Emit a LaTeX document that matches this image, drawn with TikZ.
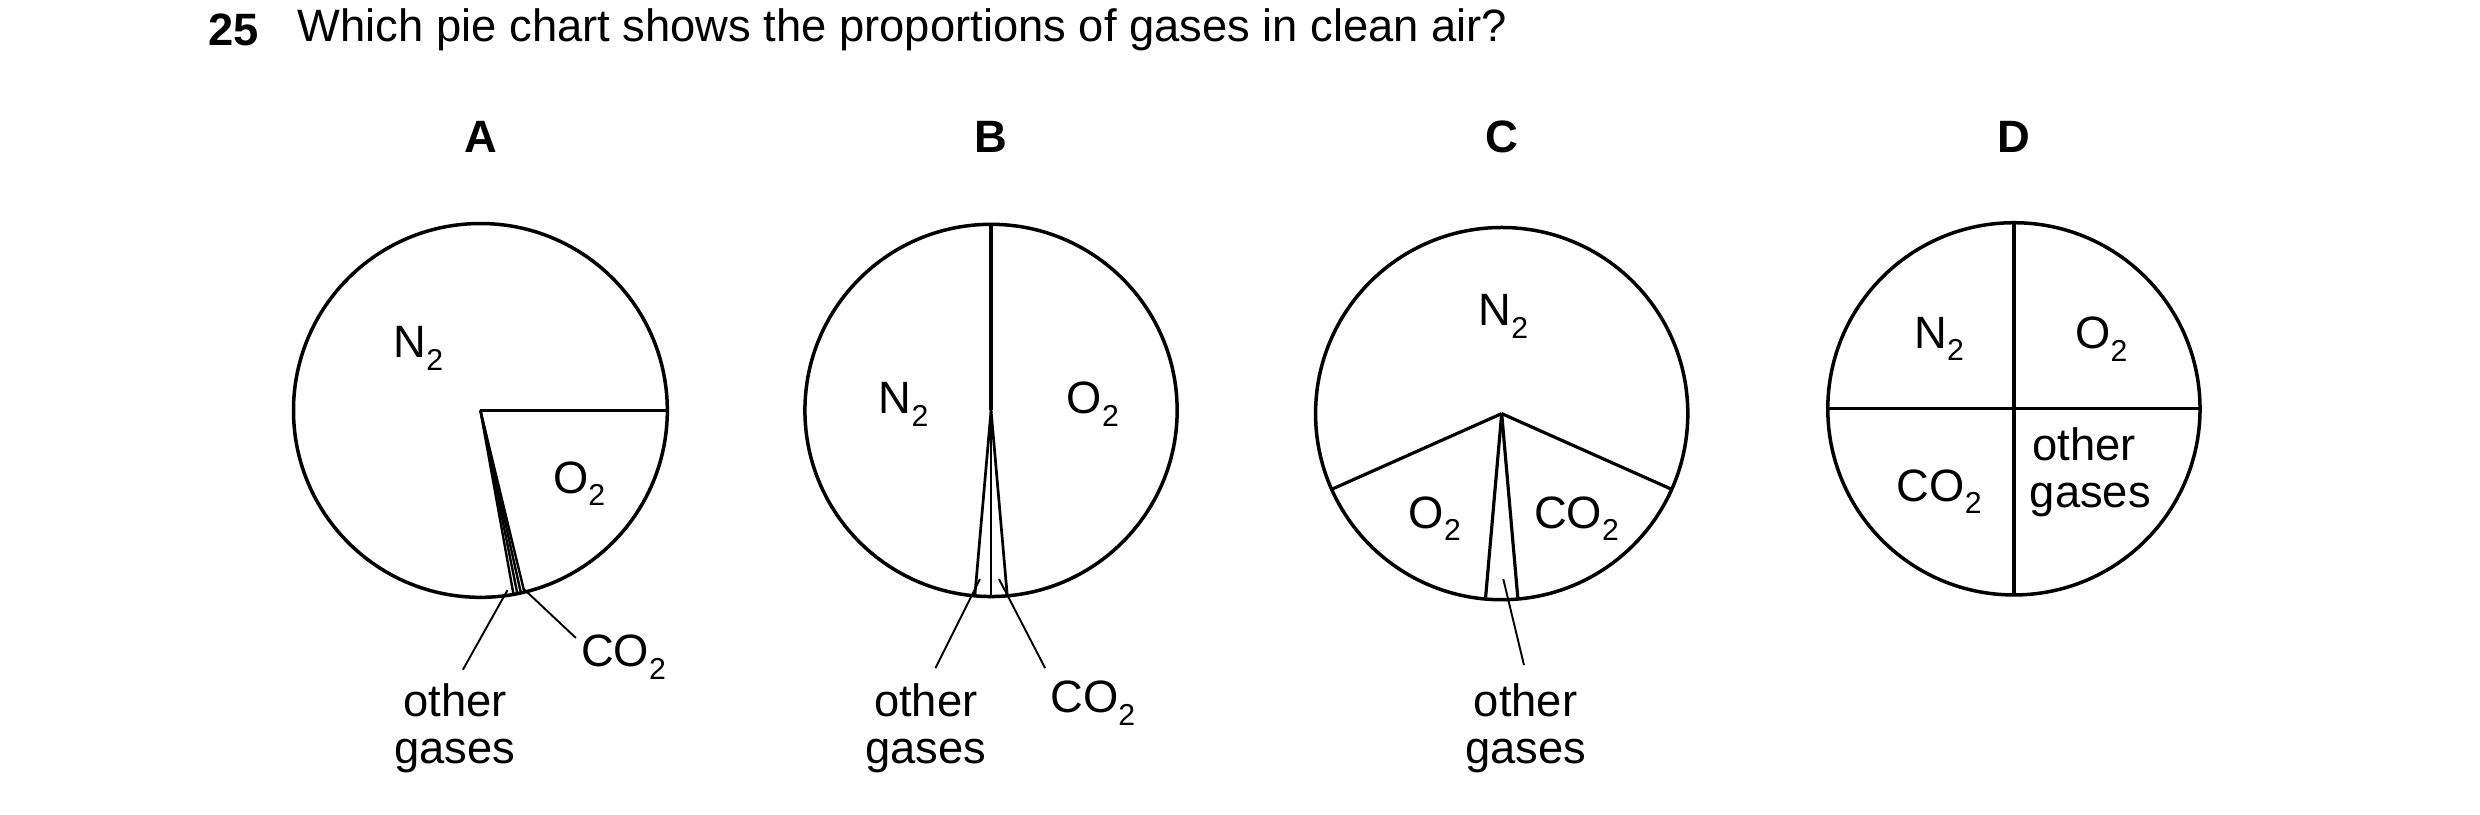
\documentclass[tikz,border=0pt]{standalone}
\usepackage{fontspec}
\setmainfont{Liberation Sans}
\newcommand{\mysub}[1]{\raisebox{-0.28em}{\fontsize{19}{20}\selectfont #1}}
\begin{document}
\begin{tikzpicture}[x=1pt,y=-1pt,
  pie/.style={line width=2.2pt},
  seg/.style={line width=2pt},
  lead/.style={line width=1.2pt},
  lab/.style={font=\fontsize{28.5}{34}\selectfont, inner sep=0pt},
  hd/.style={font=\fontsize{28.5}{34}\selectfont\bfseries, inner sep=0pt}]
\useasboundingbox (0,0) rectangle (1559,512);
\node[hd, anchor=west] (num) at (131,19) {25};
\node[lab, anchor=west] (title) at (187,19) {Which pie chart shows the proportions of gases in clean air?};
\node[hd] (hA) at (302,86) {A};
\node[hd] (hB) at (623,86) {B};
\node[hd] (hC) at (944,86) {C};
\node[hd] (hD) at (1266,86) {D};
% A
\coordinate (cA) at (302,258);
\draw[pie] (cA) circle (117.5);
\draw[seg] (cA) -- ++(0:117.5);
\foreach \a in {76.4,77.5,78.6,79.8} \draw[line width=1.5pt] (cA) -- ++(\a:117.5);
\coordinate (aO1) at (319,371); \coordinate (aO2) at (291,421);
\coordinate (aC1) at (329,370); \coordinate (aC2) at (362,401);
\draw[lead] (aO1) -- (aO2);
\draw[lead] (aC1) -- (aC2);
\node[lab] (aN) at (263,219) {N\mysub{2}};
\node[lab] (aO) at (364,304) {O\mysub{2}};
\node[lab] (aC) at (392,413) {CO\mysub{2}};
\node[lab] (ao) at (286,440) {other};
\node[lab] (ag) at (286,475) {gases};
% B
\coordinate (cB) at (623,258);
\draw[pie] (cB) circle (117);
\draw[seg] (cB) -- ++(-90:117);
\foreach \a in {85,90,95} \draw[line width=1.7pt] (cB) -- ++(\a:117);
\coordinate (bO1) at (616,364); \coordinate (bO2) at (588,420);
\coordinate (bC1) at (628,364); \coordinate (bC2) at (657,420);
\draw[lead] (bO1) -- (bO2);
\draw[lead] (bC1) -- (bC2);
\node[lab] (bN) at (568,254) {N\mysub{2}};
\node[lab] (bO) at (687,254) {O\mysub{2}};
\node[lab] (bC) at (687,442) {CO\mysub{2}};
\node[lab] (bo) at (582,440) {other};
\node[lab] (bg) at (582,475) {gases};
% C
\coordinate (cC) at (944,260);
\draw[pie] (cC) circle (117);
\foreach \a in {24,156} \draw[seg] (cC) -- ++(\a:117);
\foreach \a in {85,95} \draw[seg] (cC) -- ++(\a:116);
\coordinate (cO1) at (945,364); \coordinate (cO2) at (958,418);
\draw[lead] (cO1) -- (cO2);
\node[lab] (cN) at (945,199) {N\mysub{2}};
\node[lab] (cOx) at (902,326) {O\mysub{2}};
\node[lab] (cCx) at (991,326) {CO\mysub{2}};
\node[lab] (co) at (959,440) {other};
\node[lab] (cg) at (959,475) {gases};
% D
\coordinate (cD) at (1266,257);
\draw[pie] (cD) circle (117);
\draw[seg] (1149,257) -- (1383,257);
\draw[seg] (1266,140) -- (1266,374);
\node[lab] (dN) at (1219,213) {N\mysub{2}};
\node[lab] (dO) at (1321,213) {O\mysub{2}};
\node[lab] (dC) at (1219,309) {CO\mysub{2}};
\node[lab] (do) at (1310,279) {other};
\node[lab] (dg) at (1314,314) {gases};
\end{tikzpicture}
\end{document}
